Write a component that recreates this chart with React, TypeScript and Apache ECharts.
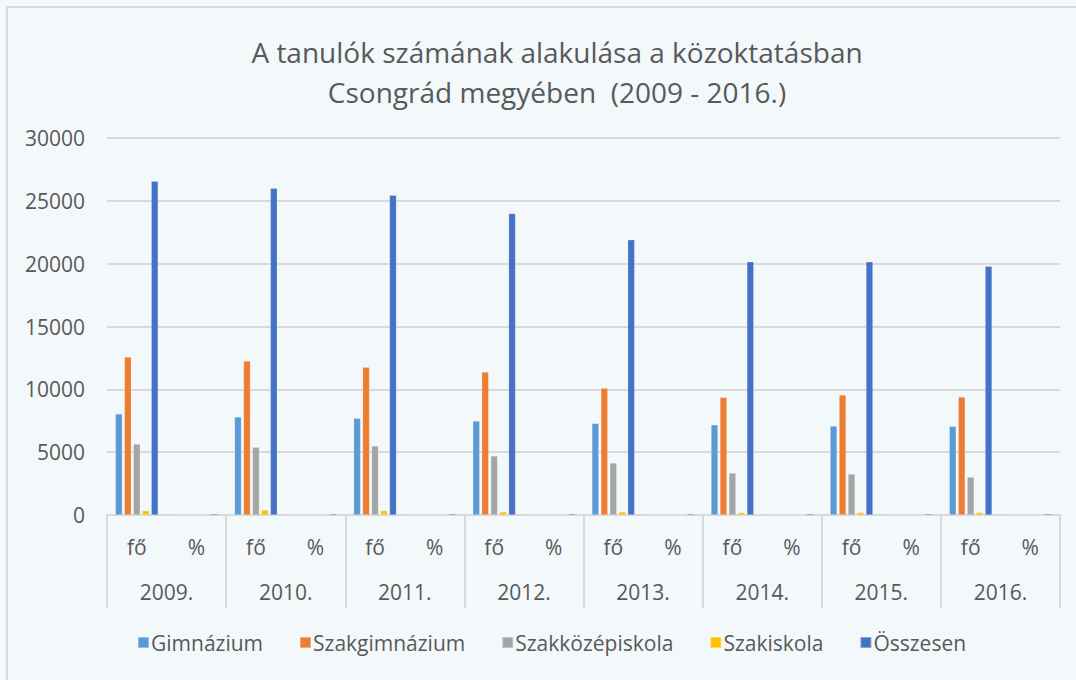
import React, { useEffect, useRef } from "react";
import * as echarts from "echarts";

const years = ["2009.", "2010.", "2011.", "2012.", "2013.", "2014.", "2015.", "2016."];
const subCats = ["fő", "%"];
const categories: string[] = years.flatMap(() => subCats);

// values per category: [2009 fő, 2009 %, 2010 fő, 2010 %, ...]
const gimnazium = [8050, 30.3, 7800, 30.0, 7700, 30.3, 7480, 31.2, 7290, 33.3, 7180, 35.6, 7080, 35.1, 7060, 35.7];
const szakgimnazium = [12570, 47.3, 12250, 47.1, 11770, 46.2, 11380, 47.4, 10100, 46.1, 9360, 46.5, 9550, 47.4, 9390, 47.4];
const szakkozep = [5650, 21.3, 5400, 20.8, 5500, 21.6, 4700, 19.6, 4140, 18.9, 3340, 16.6, 3260, 16.2, 3020, 15.3];
const szakiskola = [340, 1.3, 400, 1.5, 350, 1.4, 250, 1.0, 250, 1.1, 200, 1.0, 200, 1.0, 200, 1.0];
const osszesen = [26570, 100, 26000, 100, 25450, 100, 24000, 100, 21900, 100, 20150, 100, 20150, 100, 19800, 100];

const seriesNames = ["Gimnázium", "Szakgimnázium", "Szakközépiskola", "Szakiskola", "Összesen"];
const seriesData = [gimnazium, szakgimnazium, szakkozep, szakiskola, osszesen];
const colors = ["#5B9BD5", "#ED7D31", "#A5A5A5", "#FFC000", "#4472C4"];

const titleLines = ["A tanulók számának alakulása a közoktatásban", "Csongrád megyében  (2009 - 2016.)"];

const FONT = "'Open Sans', 'Noto Sans', sans-serif";
const TEXT = "#595959";
const GRID = "#D9D9D9";

export default function App() {
  const ref = useRef<HTMLDivElement>(null);
  useEffect(() => {
    if (!ref.current) return;
    const chart = echarts.init(ref.current, undefined, { renderer: "svg" });
    chart.setOption({
      animation: false,
      backgroundColor: "#F3F8FB",
      color: colors,
      textStyle: { fontFamily: FONT },
      graphic: [
        {
          type: "rect",
          shape: { x: 7, y: 7, width: 1100, height: 700 },
          style: { fill: "none", stroke: "#D9D9D9", lineWidth: 2 },
          silent: true,
        },
      ],
      title: {
        text: titleLines.join("\n"),
        left: 552,
        textAlign: "center",
        top: 27,
        textStyle: { fontFamily: FONT, fontSize: 28, fontWeight: "normal", color: TEXT, lineHeight: 40 },
      },
      legend: {
        bottom: 22,
        left: 132,
        itemWidth: 11,
        itemHeight: 11,
        itemGap: 36,
        icon: "rect",
        textStyle: { fontFamily: FONT, fontSize: 21, color: TEXT, padding: [0, 0, 0, -3] },
        data: seriesNames,
      },
      grid: { left: 107, right: 16, top: 138, bottom: 165, containLabel: false },
      xAxis: [
        {
          type: "category",
          data: categories,
          position: "bottom",
          axisLine: { lineStyle: { color: GRID, width: 2 } },
          axisTick: { show: false },
          axisLabel: { fontFamily: FONT, fontSize: 21, color: TEXT, margin: 21, interval: 0 },
        },
        {
          type: "category",
          data: years,
          position: "bottom",
          axisLine: { show: false },
          axisTick: { show: true, length: 93, lineStyle: { color: GRID, width: 2 } },
          axisLabel: { fontFamily: FONT, fontSize: 21, color: TEXT, margin: 66, interval: 0 },
        },
      ],
      yAxis: {
        type: "value",
        min: 0,
        max: 30000,
        interval: 5000,
        axisLine: { show: false },
        axisTick: { show: false },
        axisLabel: { fontFamily: FONT, fontSize: 21, color: TEXT, margin: 22, formatter: (v: number) => String(v) },
        splitLine: { lineStyle: { color: GRID, width: 2 } },
      },
      series: seriesNames.map((name, i) => ({
        name,
        type: "bar",
        xAxisIndex: 0,
        data: seriesData[i],
        barWidth: 7,
        barGap: "28%",
        itemStyle: { color: colors[i], borderColor: "rgba(255,255,255,0.35)", borderWidth: 0.6 },
      })),
    });
    return () => chart.dispose();
  }, []);
  return (
    <div
      ref={ref}
      style={{ position: "absolute", left: 0, top: 0, width: 1076, height: 680 }}
    />
  );
}
